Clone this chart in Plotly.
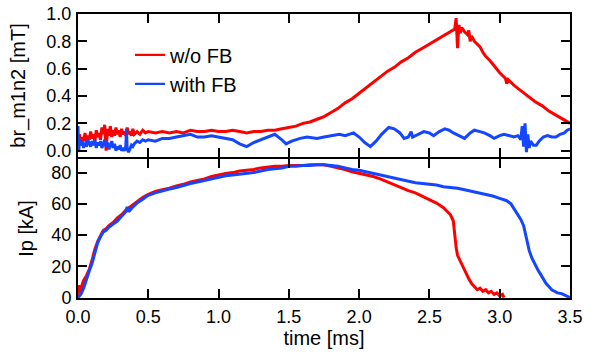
import plotly.graph_objects as go

# ---- data ----
t_br_red = [0.00,0.01,0.02,0.03,0.04,0.05,0.06,0.07,0.08,0.09,0.10,0.11,0.12,0.13,0.14,0.15,0.16,0.17,0.18,0.19,
            0.20,0.21,0.22,0.23,0.24,0.25,0.26,0.27,0.28,0.29,0.30,0.31,0.32,0.33,0.34,0.35,0.36,0.37,0.38,0.39,
            0.40,0.42,0.44,0.46,0.48,0.50,0.55,0.60,0.65,0.70,0.75,0.80,0.85,0.90,0.95,1.00,1.05,1.10,1.15,1.20,
            1.25,1.30,1.35,1.40,1.45,1.50,1.55,1.60,1.65,1.70,1.75,1.80,1.85,1.90,1.95,2.00,2.05,2.10,2.15,2.20,
            2.25,2.30,2.35,2.40,2.45,2.50,2.55,2.60,2.63,2.66,2.68,2.69,2.70,2.71,2.72,2.73,2.75,2.77,2.78,2.79,
            2.80,2.82,2.84,2.86,2.88,2.90,2.93,2.96,3.00,3.04,3.05,3.06,3.10,3.15,3.20,3.25,3.30,3.35,3.40,3.45,3.50]
br_red = [0.05,0.12,0.04,0.10,0.07,0.13,0.06,0.11,0.08,0.14,0.09,0.12,0.07,0.15,0.10,0.13,0.08,0.17,0.12,0.19,
          0.00,0.16,0.11,0.18,0.10,0.15,0.11,0.17,0.12,0.15,0.10,0.16,0.12,0.14,0.11,0.17,0.12,0.14,0.11,0.16,
          0.12,0.14,0.12,0.15,0.13,0.14,0.13,0.14,0.13,0.14,0.13,0.15,0.14,0.14,0.15,0.14,0.14,0.15,0.14,0.13,
          0.14,0.14,0.15,0.15,0.16,0.17,0.18,0.20,0.21,0.23,0.25,0.28,0.31,0.35,0.38,0.42,0.46,0.50,0.54,0.58,
          0.61,0.65,0.68,0.72,0.75,0.78,0.81,0.84,0.86,0.88,0.89,0.97,0.75,0.92,0.86,0.90,0.87,0.85,0.88,0.80,
          0.84,0.80,0.78,0.76,0.72,0.69,0.66,0.62,0.57,0.53,0.49,0.52,0.48,0.44,0.40,0.36,0.33,0.29,0.26,0.23,0.20]

t_br_blue = [0.00,0.005,0.01,0.02,0.03,0.04,0.05,0.06,0.07,0.08,0.09,0.10,0.11,0.12,0.13,0.14,0.15,0.16,0.17,0.18,
             0.19,0.20,0.21,0.22,0.23,0.24,0.25,0.26,0.27,0.28,0.29,0.30,0.31,0.32,0.33,0.34,0.345,0.35,0.36,0.37,
             0.38,0.39,0.40,0.42,0.44,0.46,0.48,0.50,0.55,0.60,0.65,0.70,0.75,0.80,0.85,0.90,0.95,1.00,1.05,1.10,
             1.15,1.20,1.25,1.30,1.35,1.40,1.45,1.48,1.52,1.58,1.63,1.70,1.75,1.80,1.86,1.90,1.96,2.00,2.04,2.08,
             2.12,2.16,2.21,2.25,2.29,2.32,2.35,2.37,2.38,2.42,2.46,2.50,2.53,2.57,2.61,2.64,2.67,2.71,2.75,2.79,
             2.82,2.86,2.89,2.93,2.96,3.00,3.03,3.07,3.10,3.13,3.15,3.16,3.17,3.18,3.19,3.20,3.21,3.22,3.24,3.26,
             3.28,3.31,3.34,3.37,3.40,3.43,3.46,3.48,3.50]
br_blue = [0.18,-0.01,0.08,0.04,0.07,0.02,0.06,0.03,0.08,0.05,0.03,0.07,0.04,0.08,0.02,0.06,0.04,0.07,0.02,0.05,
           0.08,0.03,0.06,0.01,0.04,0.07,0.02,0.05,0.00,0.03,0.01,0.04,0.00,0.02,0.00,0.03,0.16,0.01,-0.01,0.02,
           0.04,0.03,0.05,0.07,0.06,0.08,0.07,0.08,0.07,0.09,0.09,0.10,0.11,0.12,0.10,0.10,0.11,0.10,0.09,0.08,
           0.05,0.03,0.06,0.08,0.10,0.12,0.08,0.05,0.07,0.09,0.10,0.09,0.10,0.11,0.12,0.11,0.13,0.10,0.06,0.03,
           0.07,0.12,0.17,0.16,0.13,0.09,0.10,0.14,0.10,0.12,0.14,0.13,0.11,0.14,0.16,0.15,0.13,0.11,0.09,0.13,
           0.15,0.14,0.13,0.11,0.09,0.11,0.12,0.11,0.10,0.11,0.08,0.18,0.03,0.20,-0.01,0.12,0.02,0.07,0.04,0.04,
           0.07,0.10,0.11,0.10,0.10,0.12,0.13,0.15,0.16]

t_ip_red = [0.00,0.005,0.01,0.02,0.03,0.04,0.06,0.08,0.10,0.12,0.14,0.16,0.18,0.20,0.22,0.25,0.28,0.31,0.34,0.37,
            0.40,0.43,0.46,0.50,0.55,0.60,0.65,0.70,0.75,0.80,0.85,0.90,0.95,1.00,1.05,1.10,1.15,1.20,1.25,1.30,
            1.35,1.40,1.45,1.50,1.55,1.60,1.65,1.70,1.75,1.80,1.85,1.90,1.95,2.00,2.05,2.10,2.15,2.20,2.25,2.30,
            2.35,2.40,2.45,2.50,2.55,2.60,2.63,2.65,2.67,2.68,2.69,2.70,2.72,2.74,2.76,2.78,2.80,2.82,2.84,2.86,
            2.88,2.90,2.92,2.94,2.96,2.98,3.00,3.02,3.03]
ip_red = [0,8,3,6,9,11,14,18,24,31,36,40,43,44,46,48,51,53,56,58,
          60,62,64,66,68,69,70,71.5,72.5,74,75,76,77.5,78.5,79.5,80,81,81.5,82,83,
          83.5,84,84,84.5,84.5,84.5,85,85,85,84,83,82,80.5,79.5,78.5,77.5,76,74,72.5,70.5,
          68.5,67,65,63,60.5,57.5,55,53,49,40,32,27,23,19,15,12,9,7,5,6,
          4,5,3,4,2,3,1,2,0]

t_ip_blue = [0.00,0.02,0.04,0.06,0.08,0.10,0.12,0.14,0.16,0.18,0.20,0.22,0.25,0.28,0.31,0.34,0.35,0.36,0.39,0.42,
             0.46,0.50,0.55,0.60,0.65,0.70,0.75,0.80,0.85,0.90,0.95,1.00,1.05,1.10,1.15,1.20,1.25,1.30,1.35,1.40,
             1.45,1.50,1.55,1.60,1.65,1.70,1.75,1.80,1.85,1.90,1.95,2.00,2.05,2.10,2.15,2.20,2.25,2.30,2.35,2.40,
             2.45,2.50,2.55,2.60,2.65,2.70,2.75,2.80,2.85,2.90,2.95,3.00,3.05,3.08,3.11,3.13,3.15,3.17,3.19,3.21,
             3.23,3.25,3.27,3.29,3.31,3.33,3.35,3.37,3.39,3.41,3.44,3.47,3.50]
ip_blue = [0,2,6,12,17,22,29,35,39,42,43,45,47,49,52,55,58,55,58,60.5,
           63,65.5,67,68.5,69.5,70.5,72,73,74,75,76,77,78,78.5,79,79.5,80,81,82,82.5,
           83,84,84,84.5,84.5,85,85,84.5,84,83,82,81.5,80.5,79.5,78.5,77.5,76.5,75.5,74.5,73.5,
           73,72.5,72,71,70.5,70,69,68,67,66,65,63.5,62,60,56,53,50,46,37,30,
           25,21,18,15,12,9,7,5,4,3,2.5,1.5,0]

series_names = ["w/o FB", "with FB"]
x_ticks = [0.0, 0.5, 1.0, 1.5, 2.0, 2.5, 3.0, 3.5]
br_ticks = [0.0, 0.2, 0.4, 0.6, 0.8, 1.0]
ip_ticks = [0, 20, 40, 60, 80]

RED = "#ff0000"
BLUE = "#1446ff"
FONT = "Liberation Sans, Arial, sans-serif"
TFS = 18   # tick labels
LFS = 20   # titles / legend

fig = go.Figure()
fig.add_trace(go.Scatter(x=t_br_red, y=br_red, mode="lines", showlegend=False,
                         line=dict(color=RED, width=3), xaxis="x", yaxis="y"))
fig.add_trace(go.Scatter(x=t_br_blue, y=br_blue, mode="lines", showlegend=False,
                         line=dict(color=BLUE, width=3), xaxis="x", yaxis="y"))
fig.add_trace(go.Scatter(x=t_ip_red, y=ip_red, mode="lines", showlegend=False,
                         line=dict(color=RED, width=3), xaxis="x2", yaxis="y2"))
fig.add_trace(go.Scatter(x=t_ip_blue, y=ip_blue, mode="lines", showlegend=False,
                         line=dict(color=BLUE, width=3), xaxis="x2", yaxis="y2"))
# legend entries (thinner line sample, as in the reference)
for nm, col in zip(series_names, [RED, BLUE]):
    fig.add_trace(go.Scatter(x=[None], y=[None], mode="lines", name=nm,
                             line=dict(color=col, width=2.2), xaxis="x", yaxis="y"))

ax = dict(showline=True, linecolor="black", linewidth=2, mirror="ticks", ticks="inside",
          ticklen=9, tickwidth=2, tickcolor="black", showgrid=False, zeroline=False,
          automargin=False, ticklabelstandoff=1,
          tickfont=dict(size=TFS, color="black", family=FONT))
top_dom = [0.4965, 1.0]
bot_dom = [0.0, 0.4894]
fig.update_layout(
    width=595, height=354,
    margin=dict(l=78, r=25, t=14, b=56),
    paper_bgcolor="white", plot_bgcolor="white",
    font=dict(family=FONT, size=LFS, color="black"),
    showlegend=True,
    legend=dict(x=0.1057, y=0.925, xanchor="left", yanchor="top", bgcolor="rgba(0,0,0,0)",
                font=dict(size=LFS), tracegroupgap=0),
    xaxis=dict(ax, range=[0, 3.5], tickvals=x_ticks, showticklabels=False, anchor="y", domain=[0, 1]),
    yaxis=dict(ax, range=[-0.046, 1.0], tickvals=br_ticks, tickformat=".1f", domain=top_dom, anchor="x",
               title=dict(text="br_m1n2 [mT]", standoff=15, font=dict(size=LFS))),
    xaxis2=dict(ax, range=[0, 3.5], tickvals=x_ticks, tickformat=".1f", anchor="y2", domain=[0, 1],
                title=dict(text="time [ms]", standoff=2, font=dict(size=LFS))),
    yaxis2=dict(ax, range=[-0.3, 88.7], tickvals=ip_ticks, domain=bot_dom, anchor="x2",
                title=dict(text="Ip [kA]", standoff=12, font=dict(size=LFS))),
)
fig.write_html("out.html", config={"displayModeBar": False},
               post_script="document.body.style.margin='0px';")
